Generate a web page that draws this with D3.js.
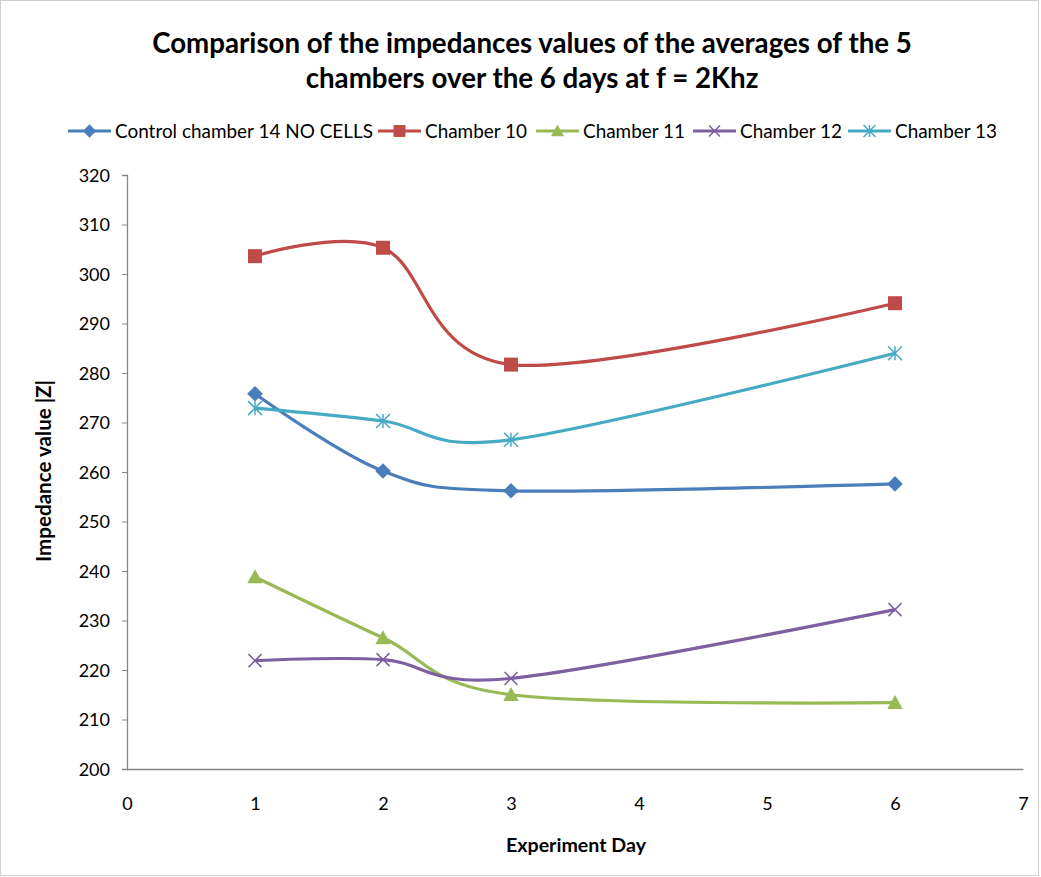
<!DOCTYPE html>
<html>
<head>
<meta charset="utf-8">
<script src="https://cdn.jsdelivr.net/npm/d3@7"></script>
<style>
  html, body { margin: 0; padding: 0; background: #fff; }
  svg { display: block; font-family: Lato, "Open Sans", sans-serif; }
</style>
</head>
<body>
<svg id="chart" width="1041" height="877"></svg>
<script>
// Experiment days on the x axis
const days = [1, 2, 3, 6];

// Series names (legend order)
const seriesNames = [
  "Control chamber 14 NO CELLS",
  "Chamber 10",
  "Chamber 11",
  "Chamber 12",
  "Chamber 13"
];

// Average impedance |Z| per chamber at f = 2 kHz
const control14 = [275.8, 260.2, 256.2, 257.6];
const chamber10 = [303.6, 305.3, 281.7, 294.1];
const chamber11 = [238.8, 226.5, 215.0, 213.4];
const chamber12 = [221.9, 222.1, 218.3, 232.2];
const chamber13 = [272.9, 270.3, 266.5, 284.0];

// Axis ticks
const xTicks = [0, 1, 2, 3, 4, 5, 6, 7];
const yTicks = [200, 210, 220, 230, 240, 250, 260, 270, 280, 290, 300, 310, 320];

const seriesValues = [control14, chamber10, chamber11, chamber12, chamber13];
const colors = ["#4A7EBB", "#BE4B48", "#98B954", "#7D60A0", "#46AAC5"];
const markers = ["diamond", "square", "triangle", "x", "star"];

const svg = d3.select("#chart");
const W = 1041, H = 877;

// Set a text element's font size so that it spans the given width
function fitWidth(sel, width) {
  const node = sel.node();
  const w = node.getComputedTextLength();
  const fs = parseFloat(sel.attr("font-size"));
  sel.attr("font-size", (fs * width / w).toFixed(2));
  return sel;
}

// outer chart border
svg.append("rect")
  .attr("x", 0.5).attr("y", 0.5)
  .attr("width", W - 3).attr("height", H - 2)
  .attr("fill", "#fff").attr("stroke", "#d0d0d0");

const plot = { left: 127, right: 1023, top: 175, bottom: 769 };

const x = d3.scaleLinear().domain([0, 7]).range([plot.left, plot.right]);
const y = d3.scaleLinear().domain([200, 320]).range([plot.bottom, plot.top]);

// Title (two lines)
const t1 = svg.append("text")
  .attr("x", 532).attr("y", 53)
  .attr("text-anchor", "middle").attr("font-weight", "bold")
  .attr("font-size", 20).attr("fill", "#000")
  .text("Comparison of the impedances values of the averages of the 5");
fitWidth(t1, 760);
const t2 = svg.append("text")
  .attr("x", 532).attr("y", 88)
  .attr("text-anchor", "middle").attr("font-weight", "bold")
  .attr("font-size", t1.attr("font-size")).attr("fill", "#000")
  .text("chambers over the 6 days at f = 2Khz");

// Axes
const yAxis = d3.axisLeft(y).tickValues(yTicks).tickSize(5).tickPadding(12);
const xAxis = d3.axisBottom(x).tickValues(xTicks).tickFormat(d3.format("d")).tickSize(0).tickPadding(28);

const gy = svg.append("g").attr("transform", `translate(${plot.left},0)`).call(yAxis);
const gx = svg.append("g").attr("transform", `translate(0,${plot.bottom})`).call(xAxis);

[gx, gy].forEach(g => {
  g.select(".domain").attr("stroke", "#868686").attr("stroke-width", 1.3);
  g.selectAll(".tick line").attr("stroke", "#868686");
  g.selectAll(".tick text").attr("font-size", 18).attr("fill", "#000")
    .attr("font-family", "Lato, sans-serif");
});
gy.selectAll(".tick text").attr("dy", "0.35em");

// Axis titles
const xt = svg.append("text")
  .attr("x", 576).attr("y", 852)
  .attr("text-anchor", "middle")
  .attr("font-weight", "bold").attr("font-size", 16)
  .text("Experiment Day");
fitWidth(xt, 140);

const yt = svg.append("text")
  .attr("transform", "translate(51,471) rotate(-90)")
  .attr("text-anchor", "middle")
  .attr("font-weight", "bold").attr("font-size", 16)
  .text("Impedance value |Z|");
fitWidth(yt, 182);

// Marker drawing
function drawMarker(g, type, color, size) {
  const s = size;
  if (type === "diamond") {
    g.append("path").attr("d", `M0,${-s*0.6}L${s*0.6},0L0,${s*0.6}L${-s*0.6},0Z`).attr("fill", color);
  } else if (type === "square") {
    g.append("rect").attr("x", -s/2).attr("y", -s/2).attr("width", s).attr("height", s).attr("fill", color);
  } else if (type === "triangle") {
    g.append("path").attr("d", `M0,${-s*0.55}L${s*0.55},${s*0.45}L${-s*0.55},${s*0.45}Z`).attr("fill", color);
  } else if (type === "x") {
    const r = s * 0.5;
    g.append("path").attr("d", `M${-r},${-r}L${r},${r}M${-r},${r}L${r},${-r}`)
      .attr("stroke", color).attr("stroke-width", 1.5).attr("fill", "none");
  } else if (type === "star") {
    const r = s * 0.5;
    g.append("path").attr("d", `M${-r},${-r}L${r},${r}M${-r},${r}L${r},${-r}M0,${-r}L0,${r}`)
      .attr("stroke", color).attr("stroke-width", 1.5).attr("fill", "none");
  }
}

const markerSize = [13, 14, 14, 13, 14];

const line = d3.line()
  .x(d => x(d[0]))
  .y(d => y(d[1]))
  .curve(d3.curveCardinal.tension(0));

// Series lines and markers
seriesValues.forEach((vals, i) => {
  const pts = days.map((d, j) => [d, vals[j]]);
  svg.append("path")
    .datum(pts)
    .attr("d", line)
    .attr("fill", "none")
    .attr("stroke", colors[i])
    .attr("stroke-width", 3.2)
    .attr("stroke-linejoin", "round");
  pts.forEach(p => {
    const g = svg.append("g").attr("transform", `translate(${x(p[0])},${y(p[1])})`);
    drawMarker(g, markers[i], colors[i], markerSize[i]);
  });
});

// Legend
const legendX = [68, 378, 536, 693, 848];
const legendTextW = [258, 105, 105, 103, 105];
const legend = svg.append("g").attr("transform", "translate(0,131)");
let legendFont = null;
seriesNames.forEach((name, i) => {
  const g = legend.append("g").attr("transform", `translate(${legendX[i]},0)`);
  g.append("line").attr("x1", 0).attr("x2", 43).attr("y1", 0).attr("y2", 0)
    .attr("stroke", colors[i]).attr("stroke-width", 3.2);
  const m = g.append("g").attr("transform", "translate(21.5,0)");
  drawMarker(m, markers[i], colors[i], markerSize[i] * 0.85);
  const t = g.append("text").attr("x", 47).attr("y", 0).attr("dy", "0.35em")
    .attr("font-size", 16).text(name);
  if (i === 0) { fitWidth(t, legendTextW[0]); legendFont = t.attr("font-size"); }
  else t.attr("font-size", legendFont);
});
</script>
</body>
</html>
